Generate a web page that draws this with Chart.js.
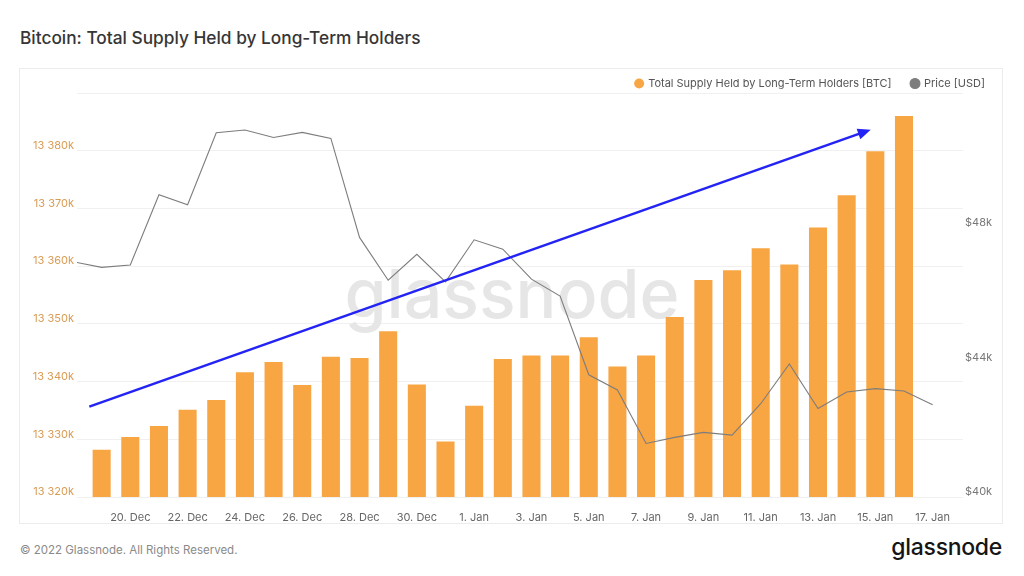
<!DOCTYPE html>
<html>
<head>
<meta charset="utf-8">
<script src="https://cdn.jsdelivr.net/npm/chart.js@4.4.0/dist/chart.umd.min.js"></script>
<style>
  body { margin: 0; width: 1024px; height: 576px; overflow: hidden; position: relative; background: #fff; font-family: Inter, "Noto Sans", sans-serif; }
  #title { position: absolute; left: 20px; top: 27px; font-size: 17.3px; font-weight: 500; color: #363636; }
  #panel { position: absolute; left: 19px; top: 68px; width: 982px; height: 454px; border: 1px solid #ececec; }
  #wrap { position: absolute; left: 18px; top: 58px; width: 987px; height: 465px; }
  #copy { position: absolute; left: 20px; top: 543px; font-size: 11.5px; color: #8a8a8a; }
  #logo { position: absolute; right: 22px; top: 533px; font-size: 23px; font-weight: 500; color: #151515; letter-spacing: -0.3px; }
</style>
</head>
<body>
<div id="title">Bitcoin: Total Supply Held by Long-Term Holders</div>
<div id="panel"></div>
<div id="wrap"><canvas id="lthChart"></canvas></div>
<div id="copy">© 2022 Glassnode. All Rights Reserved.</div>
<div id="logo">glassnode</div>
<script>
// daily dates, 18 Dec 2021 .. 17 Jan 2022
const dates = ['18. Dec', '19. Dec', '20. Dec', '21. Dec', '22. Dec', '23. Dec', '24. Dec', '25. Dec',
  '26. Dec', '27. Dec', '28. Dec', '29. Dec', '30. Dec', '31. Dec', '1. Jan', '2. Jan', '3. Jan',
  '4. Jan', '5. Jan', '6. Jan', '7. Jan', '8. Jan', '9. Jan', '10. Jan', '11. Jan', '12. Jan',
  '13. Jan', '14. Jan', '15. Jan', '16. Jan', '17. Jan'];

// LTH supply [BTC]
const lthSupply = [null, 13328200, 13330400, 13332300, 13335100, 13336800, 13341600, 13343400,
  13339400, 13344300, 13344100, 13348700, 13339500, 13329600, 13335800, 13343900, 13344500,
  13344500, 13347700, 13342600, 13344500, 13351200, 13357600, 13359300, 13363100, 13360300,
  13366700, 13372300, 13379900, 13386000, null];

// BTC price [USD]
const price = [46990, 46820, 46890, 48980, 48680, 50820, 50900, 50680, 50830, 50650, 47710,
  46440, 47210, 46390, 47640, 47360, 46470, 45970, 43630, 43180, 41590, 41770, 41920, 41840,
  42770, 43950, 42630, 43120, 43220, 43150, 42740];

// the blue trend arrow (day index, BTC)
const arrowFrom = [0.57, 13335650];
const arrowTo = [27.84, 13383650];

const orange = '#f8a543';
const grey = '#7d7d7d';

const fmtK = v => Math.round(v / 1000).toString().replace(/\B(?=(\d{3})+(?!\d))/g, ' ') + 'k';

Chart.defaults.font.family = 'Inter, "Noto Sans", sans-serif';
Chart.defaults.font.size = 11;
Chart.defaults.animation = false;

const watermark = {
  id: 'watermark',
  beforeDatasetsDraw(chart) {
    const {ctx, chartArea: a} = chart;
    ctx.save();
    ctx.font = '500 68px Inter, "Noto Sans", sans-serif';
    ctx.fillStyle = '#e6e6e6';
    ctx.textAlign = 'center';
    ctx.textBaseline = 'alphabetic';
    ctx.fillText('glassnode', (a.left + a.right) / 2 - 8, (a.top + a.bottom) / 2 + 23);
    ctx.restore();
  }
};

const trendArrow = {
  id: 'trendArrow',
  afterDatasetsDraw(chart) {
    const {ctx, scales: {x, y}} = chart;
    const x0 = x.getPixelForValue(arrowFrom[0]), y0 = y.getPixelForValue(arrowFrom[1]);
    const x1 = x.getPixelForValue(arrowTo[0]), y1 = y.getPixelForValue(arrowTo[1]);
    const ang = Math.atan2(y1 - y0, x1 - x0);
    const len = 13, half = 5.5;
    ctx.save();
    ctx.strokeStyle = '#2323f5';
    ctx.fillStyle = '#2323f5';
    ctx.lineWidth = 2.5;
    ctx.beginPath();
    ctx.moveTo(x0, y0);
    ctx.lineTo(x1 - Math.cos(ang) * len * 0.8, y1 - Math.sin(ang) * len * 0.8);
    ctx.stroke();
    ctx.beginPath();
    ctx.moveTo(x1, y1);
    ctx.lineTo(x1 - Math.cos(ang) * len + Math.sin(ang) * half, y1 - Math.sin(ang) * len - Math.cos(ang) * half);
    ctx.lineTo(x1 - Math.cos(ang) * len - Math.sin(ang) * half, y1 - Math.sin(ang) * len + Math.cos(ang) * half);
    ctx.closePath();
    ctx.fill();
    ctx.restore();
  }
};

const ctx = document.getElementById('lthChart');
new Chart(ctx, {
  type: 'bar',
  data: {
    datasets: [{
      type: 'bar',
      label: 'Total Supply Held by Long-Term Holders [BTC]',
      data: dates.map((d, i) => ({x: i, y: lthSupply[i]})),
      backgroundColor: orange,
      borderWidth: 0,
      barPercentage: 0.7,
      categoryPercentage: 0.9,
      yAxisID: 'y',
      order: 1
    }, {
      type: 'line',
      label: 'Price [USD]',
      data: dates.map((d, i) => ({x: i, y: price[i]})),
      borderColor: grey,
      backgroundColor: grey,
      borderWidth: 1.1,
      pointRadius: 0,
      tension: 0,
      yAxisID: 'y1',
      order: 0
    }]
  },
  options: {
    responsive: true,
    maintainAspectRatio: false,
    layout: { padding: 0 },
    plugins: {
      legend: {
        position: 'top',
        align: 'end',
        maxHeight: 35,
        labels: {
          usePointStyle: true,
          pointStyle: 'circle',
          boxWidth: 7,
          boxHeight: 7,
          padding: 20,
          color: '#555',
          sort: (a, b) => a.datasetIndex - b.datasetIndex
        }
      },
      tooltip: { enabled: false }
    },
    scales: {
      x: {
        type: 'linear',
        min: 0.14,
        max: 31.06,
        offset: false,
        grid: { display: false },
        border: { display: false },
        afterBuildTicks: s => { s.ticks = dates.map((d, i) => i).filter(i => i > 0 && i % 2 === 0).map(v => ({value: v})); },
        afterFit: s => { s.height = 26; },
        ticks: { color: '#666', autoSkip: false, maxRotation: 0, padding: 6, callback: v => dates[v] }
      },
      y: {
        position: 'left',
        min: 13320000,
        max: 13390000,
        afterFit: s => { s.width = 59; },
        grid: { color: '#f0f0f0', drawTicks: false },
        border: { display: false },
        ticks: { stepSize: 10000, color: '#d99c55', padding: 3, labelOffset: -5,
          callback: v => v >= 13390000 ? '' : fmtK(v) }
      },
      y1: {
        position: 'right',
        min: 40000,
        max: 52000,
        afterFit: s => { s.width = 42; },
        grid: { display: false, drawTicks: false },
        border: { display: false },
        ticks: { stepSize: 4000, color: '#777', padding: 2, labelOffset: -5,
          callback: v => v >= 52000 ? '' : '$' + v / 1000 + 'k' }
      }
    }
  },
  plugins: [watermark, trendArrow]
});
</script>
</body>
</html>
